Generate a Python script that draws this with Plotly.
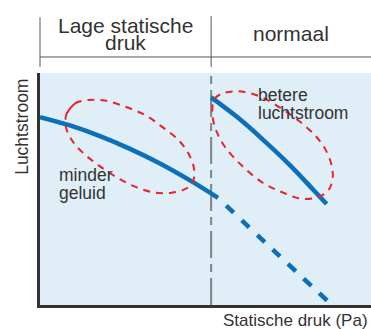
import plotly.graph_objects as go

# Fan curves (static pressure vs airflow, arbitrary units 0-100)
low_x = [0, 9.06, 18.13, 27.19, 36.25, 45.32, 53.78]
low_y = [81.0, 77.4, 72.8, 67.3, 61.0, 53.7, 46.2]

low_ext_x = [53.78, 70.3, 86.8]
low_ext_y = [46.2, 23.9, 1.85]

normal_x = [51.7, 59.4, 67.5, 75.5, 82.6, 86.6]
normal_y = [89.5, 81.2, 71.1, 60.3, 49.6, 43.5]

# Outlines of the highlighted zones
zone1_x = [8.07, 10.57, 14.6, 19.6, 25.7, 31.7, 36.8, 41.8, 44.8, 46.6,
           46.0, 43.8, 39.8, 34.7, 28.7, 23.7, 17.6, 12.6, 9.6, 7.8]
zone1_y = [82.6, 86.9, 88.4, 88.1, 85.5, 81.9, 76.9, 71.1, 65.4, 58.2,
           52.5, 49.9, 48.4, 48.4, 51.0, 54.6, 60.3, 66.1, 71.1, 76.9]

zone2_x = [52.7, 54.9, 58.9, 62.9, 68.0, 73.0, 78.0, 83.1, 86.1, 88.1,
           88.4, 87.1, 84.1, 79.1, 73.0, 67.0, 60.9, 55.9, 53.4, 52.1]
zone2_y = [88.9, 91.1, 92.1, 91.5, 88.9, 84.6, 79.6, 73.1, 67.4, 60.2,
           54.4, 49.4, 46.6, 45.8, 48.7, 53.0, 60.2, 68.1, 74.6, 81.8]

divider_x = 51.7

header_left = ["Lage statische", "druk"]
header_right = "normaal"
label_zone1 = ["minder", "geluid"]
label_zone2 = ["betere", "luchtstroom"]
x_title = "Statische druk (Pa)"
y_title = "Luchtstroom"

BLUE = "#0b6fba"
RED = "#e8232c"
GRAY = "#808487"
TEXT = "#333333"
BG = "#e0eef8"
FONT = "Liberation Sans, Arial, sans-serif"

fig = go.Figure()

# divider between regimes
fig.add_trace(go.Scatter(x=[divider_x, divider_x], y=[0, 100], mode="lines",
                         line=dict(color=GRAY, width=2, dash="27px,6px,8px,6px"),
                         hoverinfo="skip"))

fig.add_trace(go.Scatter(x=low_x, y=low_y, mode="lines",
                         line=dict(color=BLUE, width=4.5, shape="spline")))
# extension beyond the low-pressure range: starts with a gap after the solid part
fig.add_trace(go.Scatter(x=low_ext_x, y=low_ext_y, mode="lines",
                         line=dict(color=BLUE, width=4.5, shape="spline",
                                   dash="0px,11px,10.4px,0px")))
fig.add_trace(go.Scatter(x=normal_x, y=normal_y, mode="lines",
                         line=dict(color=BLUE, width=4.5, shape="spline")))

for zx, zy in ((zone1_x, zone1_y), (zone2_x, zone2_y)):
    fig.add_trace(go.Scatter(x=zx + zx[:2], y=zy + zy[:2], mode="lines",
                             line=dict(color=RED, width=2, shape="spline", dash="7px,6px")))

# background panel slightly wider than the plot area
shapes = [
    dict(type="rect", xref="paper", yref="paper", x0=-0.009, x1=1, y0=-0.004, y1=1,
         fillcolor=BG, line=dict(width=0), layer="below"),
    # header frame
    dict(type="line", xref="paper", yref="paper", x0=0, x1=0, y0=1.026, y1=1.24,
         line=dict(color="#555555", width=1)),
    dict(type="line", xref="paper", yref="paper", x0=0, x1=1, y0=1.069, y1=1.069,
         line=dict(color="#555555", width=1)),
    dict(type="line", xref="x", yref="paper", x0=divider_x, x1=divider_x, y0=1.026, y1=1.245,
         line=dict(color="#555555", width=1)),
]

mid_left = divider_x / 2
mid_right = (divider_x + 100) / 2

head_font = dict(size=21, color=TEXT, family=FONT)
label_font = dict(size=17.5, color=TEXT, family=FONT)


def note(text, x, y, xref="x", yref="y", xanchor="center", font=label_font, **kw):
    return dict(text=text, x=x, y=y, xref=xref, yref=yref, xanchor=xanchor,
                yanchor="middle", showarrow=False, font=font, **kw)


annotations = [
    note(header_left[0], mid_left, 1.205, yref="paper", font=head_font),
    note(header_left[1], mid_left, 1.13, yref="paper", font=head_font),
    note(header_right, mid_right, 1.172, yref="paper", font=head_font),
    note(label_zone1[0], 5.1, 56.0, xanchor="left"),
    note(label_zone1[1], 5.1, 48.3, xanchor="left"),
    note(label_zone2[0], 65.3, 90.5, xanchor="left"),
    note(label_zone2[1], 65.3, 82.8, xanchor="left"),
    note(y_title, -0.055, 0.767, xref="paper", yref="paper", textangle=-90),
    note(x_title, 0.996, -0.065, xref="paper", yref="paper", xanchor="right",
         font=dict(size=17, color=TEXT, family=FONT)),
]

axis_common = dict(showgrid=False, zeroline=False, showticklabels=False, ticks="",
                   showline=True, linecolor="#333333", linewidth=2.5, fixedrange=True)

fig.update_layout(
    width=371, height=329,
    margin=dict(l=40, r=0, t=73, b=24),
    paper_bgcolor="white", plot_bgcolor=BG,
    showlegend=False,
    xaxis=dict(range=[0, 100], **axis_common),
    yaxis=dict(range=[0, 100], **axis_common),
    shapes=shapes, annotations=annotations,
)

fig.write_html("out.html", config={"displayModeBar": False})
